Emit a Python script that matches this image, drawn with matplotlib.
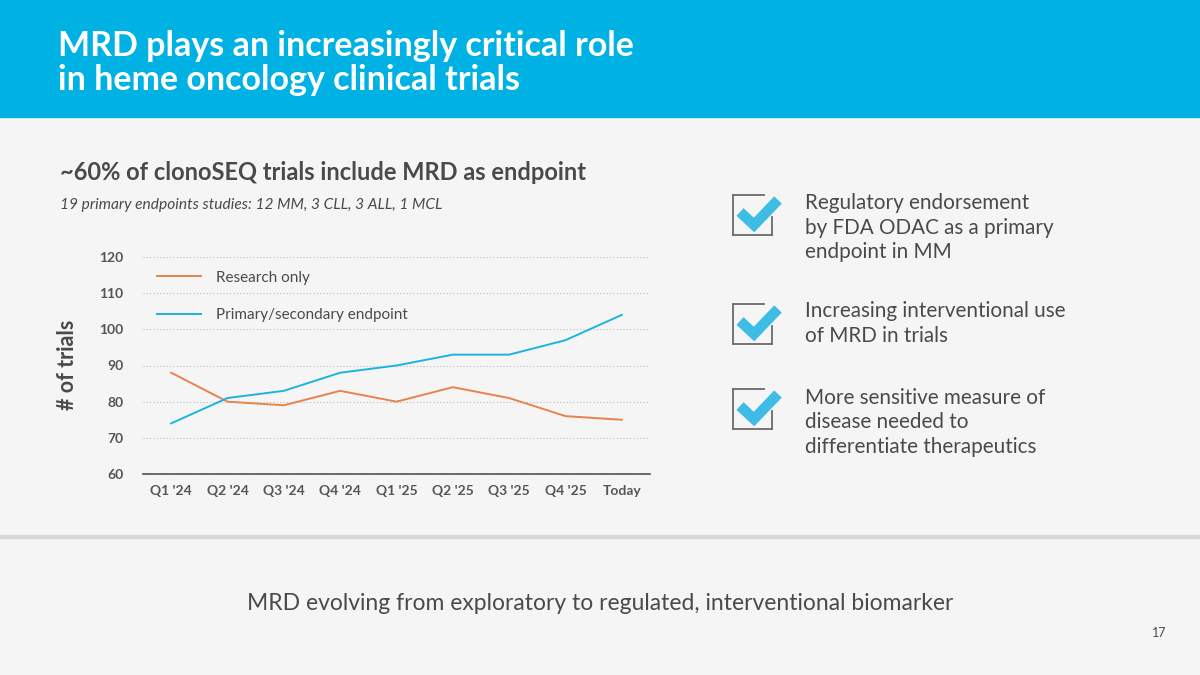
import matplotlib.pyplot as plt
from matplotlib.lines import Line2D

quarters = ["Q1 '24", "Q2 '24", "Q3 '24", "Q4 '24", "Q1 '25", "Q2 '25", "Q3 '25", "Q4 '25", "Today"]
research_only = [88, 80, 79, 83, 80, 84, 81, 76, 75]
primary_secondary = [74, 81, 83, 88, 90, 93, 93, 97, 104]
y_ticks = [60, 70, 80, 90, 100, 110, 120]

bullets = [
    "Regulatory endorsement\nby FDA ODAC as a primary\nendpoint in MM",
    "Increasing interventional use\nof MRD in trials",
    "More sensitive measure of\ndisease needed to\ndifferentiate therapeutics",
]

BLUE = "#00B2E3"
ORANGE = "#E8834E"
LINE_BLUE = "#1DB3E0"
GREY_TXT = "#4A4A4A"
BG = "#F5F5F5"

plt.rcParams['font.family'] = ['Lato', 'DejaVu Sans']

fig = plt.figure(figsize=(12, 6.75), dpi=100)
fig.patch.set_facecolor(BG)

def px(x, y):
    return x / 1200, 1 - y / 675

# header band
fig.patches.append(plt.Rectangle(px(0, 117), 1, 117 / 675, transform=fig.transFigure,
                                 color=BLUE, zorder=0))
fig.text(*px(58, 46), "MRD plays an increasingly critical role", color="white",
         fontsize=24.5, fontweight="bold", va="center")
fig.text(*px(58, 80), "in heme oncology clinical trials", color="white",
         fontsize=24.5, fontweight="bold", va="center")

# separator
fig.add_artist(Line2D([0, 1], [1 - 537 / 675] * 2, transform=fig.transFigure,
                      color="#D6D9DA", lw=3))

fig.text(*px(60, 173), "~60% of clonoSEQ trials include MRD as endpoint", color=GREY_TXT,
         fontsize=17, fontweight="bold", va="center")
fig.text(*px(60, 205), "19 primary endpoints studies: 12 MM, 3 CLL, 3 ALL, 1 MCL", color=GREY_TXT,
         fontsize=11.2, style="italic", va="center")

# chart
ax = fig.add_axes([143 / 1200, 1 - 474 / 675, 507 / 1200, 217 / 675])
ax.set_facecolor(BG)
x = range(len(quarters))
ax.plot(x, research_only, color=ORANGE, lw=1.4, label="Research only")
ax.plot(x, primary_secondary, color=LINE_BLUE, lw=1.4, label="Primary/secondary endpoint")
ax.set_xlim(-0.5, len(quarters) - 0.5)
ax.set_ylim(60, 120)
ax.set_yticks(y_ticks)
ax.set_xticks(list(x))
ax.set_xticklabels(quarters)
for t in ax.get_xticklabels() + ax.get_yticklabels():
    t.set_fontweight("bold")
    t.set_color("#555555")
    t.set_fontsize(10)
ax.tick_params(length=0, pad=8)
ax.tick_params(axis="y", pad=14)
ax.grid(axis="y", linestyle=(0, (1, 2)), color="#BBBBBB", lw=0.8)
ax.set_axisbelow(True)
for s in ["top", "right", "left"]:
    ax.spines[s].set_visible(False)
ax.spines["bottom"].set_color("#555555")
ax.spines["bottom"].set_linewidth(1.2)
for l in ax.get_ygridlines():
    l.set_clip_on(False)
leg = ax.legend(loc="upper left", bbox_to_anchor=(0.0, 1.0), frameon=False, fontsize=11,
                handlelength=2.9, labelspacing=1.55, handletextpad=1.0, labelcolor=GREY_TXT)
fig.text(*px(67, 365), "# of trials", rotation=90, fontsize=15.5, fontweight="bold",
         color=GREY_TXT, ha="center", va="center")

# check boxes and bullets
tops = [195, 304, 389]
text_tops = [203, 311, 398]
for top, tt, txt in zip(tops, text_tops, bullets):
    x0, x1 = 733, 772
    y0, y1 = top, top + 40
    box = [((x0, y0), (x1 - 8, y0)), ((x0, y0), (x0, y1)), ((x0, y1), (x1, y1)), ((x1, y1), (x1, y0 + 22))]
    for (a, b) in box:
        fig.add_artist(Line2D([a[0] / 1200, b[0] / 1200], [1 - a[1] / 675, 1 - b[1] / 675],
                              transform=fig.transFigure, color="#6B6B6B", lw=1.3))
    cx = [740, 754, 778]
    cy = [y0 + 17, y0 + 30, y0 + 5]
    fig.add_artist(Line2D([c / 1200 for c in cx], [1 - c / 675 for c in cy],
                          transform=fig.transFigure, color="#3DBCE6", lw=7.5,
                          solid_joinstyle="miter", solid_capstyle="butt"))
    for i, line in enumerate(txt.split("\n")):
        fig.text(*px(805, tt + i * 24.5), line, fontsize=14.9, color=GREY_TXT, va="center")

fig.text(*px(600, 604), "MRD evolving from exploratory to regulated, interventional biomarker",
         fontsize=16.5, color=GREY_TXT, ha="center", va="center")
fig.text(*px(1166, 633), "17", fontsize=9, color=GREY_TXT, ha="right", va="center")

fig.savefig("out.png", dpi=100, facecolor=BG)
